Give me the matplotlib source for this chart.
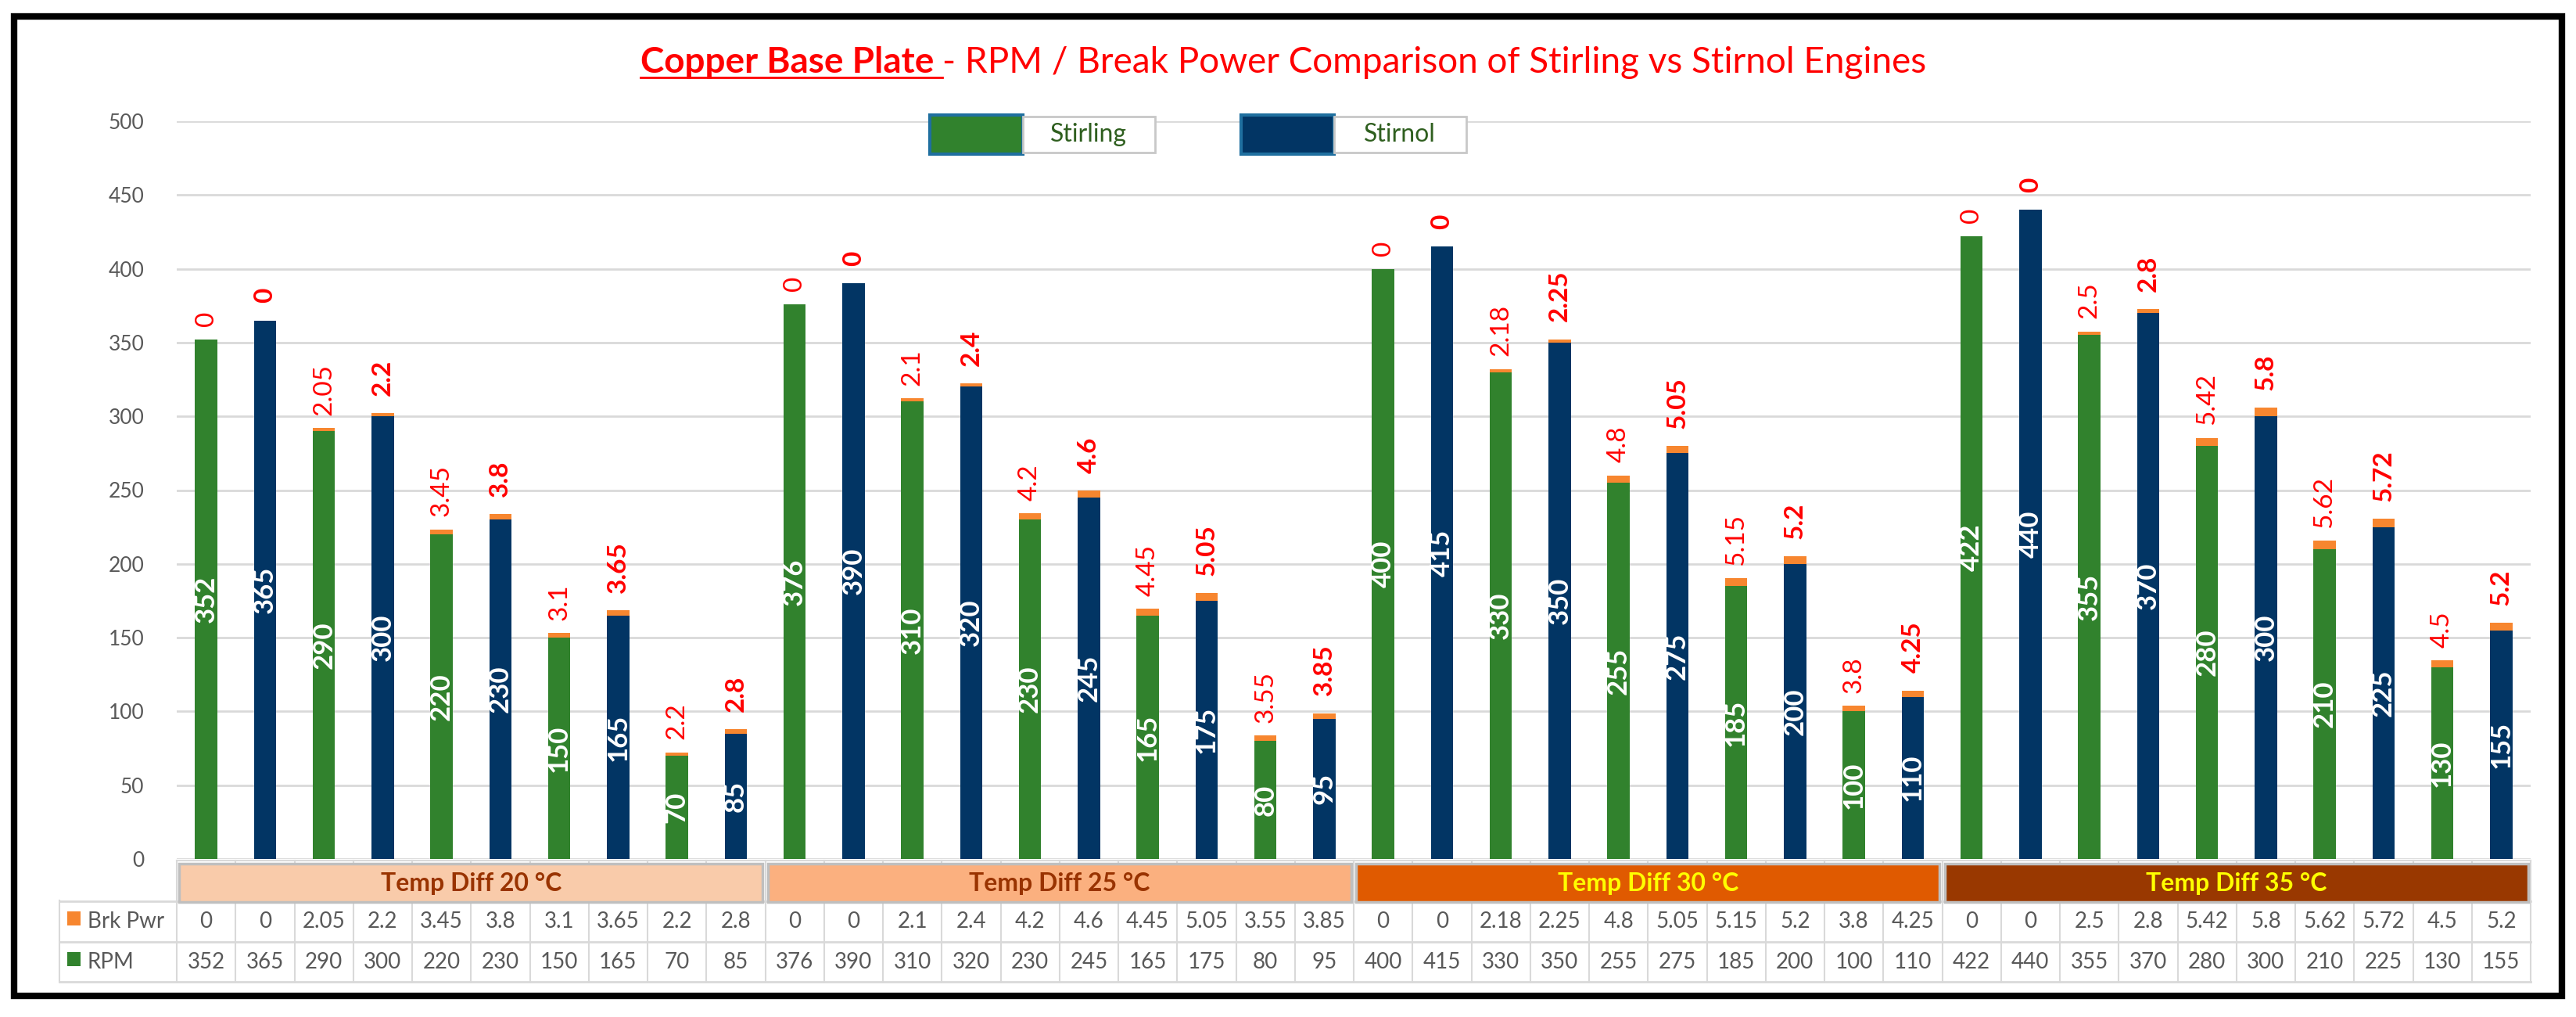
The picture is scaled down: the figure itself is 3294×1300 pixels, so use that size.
import numpy as np
import matplotlib.pyplot as plt
from matplotlib.patches import Rectangle
from matplotlib.lines import Line2D
from matplotlib.transforms import blended_transform_factory

plt.rcParams['font.family'] = ['Lato', 'DejaVu Sans']

# data
groups = ['Temp Diff 20 °C', 'Temp Diff 25 °C', 'Temp Diff 30 °C', 'Temp Diff 35 °C']
stirling_rpm = [352, 290, 220, 150, 70, 376, 310, 230, 165, 80,
                400, 330, 255, 185, 100, 422, 355, 280, 210, 130]
stirnol_rpm = [365, 300, 230, 165, 85, 390, 320, 245, 175, 95,
               415, 350, 275, 200, 110, 440, 370, 300, 225, 155]
stirling_pwr = [0, 2.05, 3.45, 3.1, 2.2, 0, 2.1, 4.2, 4.45, 3.55,
                0, 2.18, 4.8, 5.15, 3.8, 0, 2.5, 5.42, 5.62, 4.5]
stirnol_pwr = [0, 2.2, 3.8, 3.65, 2.8, 0, 2.4, 4.6, 5.05, 3.85,
               0, 2.25, 5.05, 5.2, 4.25, 0, 2.8, 5.8, 5.72, 5.2]
yticks = np.arange(0, 501, 50)

green = '#31822D'
navy = '#023564'
orange = '#F7862F'
band_colors = ['#F9CBAA', '#FBB07F', '#E05A00', '#993800']
band_text = ['#993300', '#993300', '#FFFF00', '#FFFF00']
grey_txt = '#595959'
grid_c = '#D9D9D9'

W, H = 3294, 1300
fig = plt.figure(figsize=(W / 100, H / 100), dpi=100)

def fx(px):
    return px / W

def fy(py):
    return 1 - py / H

ax = fig.add_axes([fx(226), fy(1098), fx(3236) - fx(226), fy(155) - fy(1098)])

n = len(stirling_rpm) * 2
x = np.arange(n)
rpm = np.empty(n)
rpm[0::2] = stirling_rpm
rpm[1::2] = stirnol_rpm
pwr = np.empty(n)
pwr[0::2] = stirling_pwr
pwr[1::2] = stirnol_pwr

bw = 0.38
b_st = ax.bar(x[0::2], stirling_rpm, bw, color=green, zorder=3)
b_sn = ax.bar(x[1::2], stirnol_rpm, bw, color=navy, zorder=3)
p_st = ax.bar(x[0::2], stirling_pwr, bw, bottom=stirling_rpm, color=orange, zorder=3)
p_sn = ax.bar(x[1::2], stirnol_pwr, bw, bottom=stirnol_rpm, color=orange, zorder=3)

ax.bar_label(b_st, labels=[f'{v:g}' for v in stirling_rpm], label_type='center',
             rotation=90, color='white', fontweight='bold', fontsize=25)
ax.bar_label(b_sn, labels=[f'{v:g}' for v in stirnol_rpm], label_type='center',
             rotation=90, color='white', fontweight='bold', fontsize=25)
ax.bar_label(p_st, labels=[f'{v:g}' for v in stirling_pwr], padding=12,
             rotation=90, color='red', fontsize=24)
ax.bar_label(p_sn, labels=[f'{v:g}' for v in stirnol_pwr], padding=16,
             rotation=90, color='red', fontweight='bold', fontsize=24)

ax.set_xlim(-0.5, n - 0.5)
ax.set_ylim(0, 500)
ax.set_yticks(yticks)
ax.set_xticks([])
ax.yaxis.grid(True, color=grid_c, lw=2)
ax.set_axisbelow(True)
for s in ax.spines.values():
    s.set_visible(False)
ax.tick_params(axis='y', length=0, labelsize=19, labelcolor=grey_txt, pad=30)

# data table under the chart
tr = blended_transform_factory(ax.transData, fig.transFigure)
xl = -0.5 - 150 / 75.25
for k in range(n + 1):
    ax.add_line(Line2D([k - 0.5, k - 0.5], [fy(1100), fy(1255)], transform=tr,
                       color=grid_c, lw=1.5, clip_on=False))
ax.add_line(Line2D([xl, xl], [fy(1151), fy(1255)], transform=tr, color=grid_c, lw=1.5, clip_on=False))
ax.add_line(Line2D([-0.5, n - 0.5], [fy(1100), fy(1100)], transform=tr, color=grid_c, lw=1.5, clip_on=False))
for py in [1152, 1204, 1255]:
    ax.add_line(Line2D([xl, n - 0.5], [fy(py), fy(py)], transform=tr, color=grid_c, lw=2, clip_on=False))

for g, name in enumerate(groups):
    ax.add_patch(Rectangle((g * 10 - 0.5 + 0.04, fy(1153)), 10 - 0.08, fy(1104) - fy(1153),
                           transform=tr, facecolor=band_colors[g], edgecolor='#BFBFBF',
                           lw=2.5, clip_on=False, zorder=4))
    ax.text(g * 10 + 4.5, fy(1129), name, transform=tr, ha='center', va='center',
            fontsize=23, fontweight='bold', color=band_text[g], zorder=5)

for i in range(n):
    ax.text(x[i], fy(1178), f'{pwr[i]:g}', transform=tr, ha='center', va='center',
            fontsize=20, color=grey_txt)
    ax.text(x[i], fy(1230), f'{rpm[i]:g}', transform=tr, ha='center', va='center',
            fontsize=20, color=grey_txt)

fig.add_artist(Rectangle((fx(86), fy(1183)), fx(17), fy(1165) - fy(1183),
                         transform=fig.transFigure, facecolor=orange, lw=0))
fig.text(fx(112), fy(1178), 'Brk Pwr', fontsize=20, color=grey_txt, va='center')
fig.add_artist(Rectangle((fx(86), fy(1235)), fx(17), fy(1217) - fy(1235),
                         transform=fig.transFigure, facecolor=green, lw=0))
fig.text(fx(112), fy(1230), 'RPM', fontsize=20, color=grey_txt, va='center')

# legend boxes
for sx, lab, col in [(1189, 'Stirling', green), (1587, 'Stirnol', navy)]:
    fig.add_artist(Rectangle((fx(sx), fy(197)), fx(119), fy(147) - fy(197),
                             transform=fig.transFigure, facecolor=col,
                             edgecolor='#1F6F9F', lw=3))
    fig.add_artist(Rectangle((fx(sx + 119), fy(195)), fx(169), fy(149) - fy(195),
                             transform=fig.transFigure, facecolor='white',
                             edgecolor='#C8C8C8', lw=2))
    fig.text(fx(sx + 119 + 84), fy(172), lab, fontsize=23, color='#2F5F1F',
             ha='center', va='center')

# title
t1 = fig.text(0, fy(80), 'Copper Base Plate ', fontsize=33, fontweight='bold',
              color='red', va='center')
t2 = fig.text(0, fy(80), '- RPM / Break Power Comparison of Stirling vs Stirnol Engines',
              fontsize=33, color='red', va='center')
fig.canvas.draw()
r = fig.canvas.get_renderer()
w1 = t1.get_window_extent(r).width
w2 = t2.get_window_extent(r).width
x0 = 1641 - (w1 + w2) / 2
t1.set_x(x0 / W)
t2.set_x((x0 + w1) / W)
fig.add_artist(Line2D([x0 / W, (x0 + w1) / W], [fy(99), fy(99)], transform=fig.transFigure,
                      color='red', lw=2))

# outer frame
fig.add_artist(Rectangle((fx(18), fy(1273)), fx(3276) - fx(18), fy(21) - fy(1273),
                         transform=fig.transFigure, fill=False, edgecolor='black', lw=6))

fig.savefig('out.png', dpi=100)
